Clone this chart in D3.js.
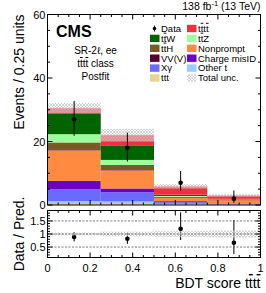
<!DOCTYPE html>
<html>
<head>
<meta charset="utf-8">
<script src="https://cdn.jsdelivr.net/npm/d3@7"></script>
<style>
  body { margin: 0; background: #fff; }
  text { font-family: "Liberation Sans", Arial, sans-serif; fill: #000; }
  .ol { text-decoration: overline; }
</style>
</head>
<body>
<svg></svg>
<script>
const WIDTH = 266;
const HEIGHT = 293;

// bins of the BDT score
const binEdges = [0, 0.25, 0.5, 0.75, 1];

// processes, bottom of the stack first ("~t" = t with a bar)
const procNames = ["ttt", "Other t", "X\u03b3", "Charge misID", "Nonprompt", "VV(V)", "t~tH", "t~tZ", "t~tW", "t~tt~t"];
const procColors = ["#e8d490", "#9ccbff", "#6a6aff", "#6a00cc", "#ff8a40", "#5a0030", "#7a5a28", "#9cff9c", "#006400", "#f0303c"];

const ttt = [0.3, 0.3, 0.1, 0.05];
const otherT = [0.9, 0.8, 0.3, 0.15];
const xGamma = [3.8, 2.9, 0.5, 0.2];
const chargeMisID = [2.6, 1.2, 0.3, 0.1];
const nonprompt = [9.6, 5.7, 1.0, 1.0];
const vvv = [0.1, 0.1, 0.05, 0.05];
const ttH = [2.4, 1.6, 0.3, 0.1];
const ttZ = [2.6, 1.6, 0.3, 0.1];
const ttW = [6.6, 4.4, 0.4, 0.2];
const tttt = [1.6, 3.4, 2.6, 1.05];
const procValues = [ttt, otherT, xGamma, chargeMisID, nonprompt, vvv, ttH, ttZ, ttW, tttt];

const totalUnc = [1.6, 2.0, 0.65, 0.4];

const dataCounts = [27, 18, 7, 2];
const dataErrUp = [5.8, 4.8, 3.7, 2.6];
const dataErrDown = [5.2, 4.3, 2.5, 1.3];

const xTicks = [0, 0.2, 0.4, 0.6, 0.8, 1];
const yTicks = [0, 20, 40, 60];
const ratioTicks = [0.5, 1, 1.5];

const legendCol1 = ["Data", "t~tW", "t~tH", "VV(V)", "X\u03b3", "ttt"];
const legendCol2 = ["t~tt~t", "t~tZ", "Nonprompt", "Charge misID", "Other t", "Total unc."];

// layout
const left = 47.5, right = 260.5;
const mainTop = 14.5, mainBot = 205;
const ratTop = 210.5, ratBot = 257.5;

var svg = d3.select("svg").attr("width", WIDTH).attr("height", HEIGHT);

var defs = svg.append("defs");
var pat = defs.append("pattern").attr("id", "hatch")
  .attr("patternUnits", "userSpaceOnUse").attr("width", 3).attr("height", 3);
pat.append("rect").attr("width", 3).attr("height", 3).attr("fill", "rgba(255,255,255,0.4)");
pat.append("path").attr("d", "M0,3 L3,0 M0,0 L3,3")
  .attr("stroke", "#b8b8b8").attr("stroke-width", 0.6);

var x = d3.scaleLinear().domain([0, 1]).range([left, right]);
var y = d3.scaleLinear().domain([0, 60]).range([mainBot, mainTop]);
var yr = d3.scaleLinear().domain([0.1, 1.9]).range([ratBot, ratTop]);

function addLabel(sel, str) {
  str.split(/(~t)/).filter(s => s.length).forEach(s => {
    if (s === "~t") sel.append("tspan").attr("class", "ol").text("t");
    else sel.append("tspan").text(s);
  });
}

// stacked histogram
var rows = binEdges.slice(0, -1).map((b, i) => {
  var r = { i: i };
  procNames.forEach((p, k) => r[p] = procValues[k][i]);
  return r;
});
var stacked = d3.stack().keys(procNames)(rows);

stacked.forEach((layer, k) => {
  svg.append("g").selectAll("rect").data(layer).enter().append("rect")
    .attr("x", d => x(binEdges[d.data.i]))
    .attr("width", d => x(binEdges[d.data.i + 1]) - x(binEdges[d.data.i]))
    .attr("y", d => y(d[1]))
    .attr("height", d => y(d[0]) - y(d[1]))
    .attr("fill", procColors[k]);
});

var totals = rows.map((r, i) => d3.sum(procValues, v => v[i]));

// total uncertainty band
svg.append("g").selectAll("rect").data(totals).enter().append("rect")
  .attr("x", (d, i) => x(binEdges[i]))
  .attr("width", (d, i) => x(binEdges[i + 1]) - x(binEdges[i]))
  .attr("y", (d, i) => y(d + totalUnc[i]))
  .attr("height", (d, i) => y(d - totalUnc[i]) - y(d + totalUnc[i]))
  .attr("fill", "url(#hatch)");

// data points
var centers = binEdges.slice(0, -1).map((b, i) => (b + binEdges[i + 1]) / 2);
var pts = svg.append("g");
dataCounts.forEach((d, i) => {
  pts.append("line").attr("x1", x(centers[i])).attr("x2", x(centers[i]))
    .attr("y1", y(d + dataErrUp[i])).attr("y2", y(d - dataErrDown[i]))
    .attr("stroke", "#000").attr("stroke-width", 1);
  pts.append("circle").attr("cx", x(centers[i])).attr("cy", y(d)).attr("r", 2.3).attr("fill", "#000");
});

// ratio panel
var ratioBand = svg.append("g");
totals.forEach((t, i) => {
  ratioBand.append("rect")
    .attr("x", x(binEdges[i])).attr("width", x(binEdges[i + 1]) - x(binEdges[i]))
    .attr("y", yr(1 + totalUnc[i] / t)).attr("height", yr(1 - totalUnc[i] / t) - yr(1 + totalUnc[i] / t))
    .attr("fill", "url(#hatch)");
});
ratioTicks.forEach(v => {
  svg.append("line").attr("x1", left).attr("x2", right).attr("y1", yr(v)).attr("y2", yr(v))
    .attr("stroke", "#555").attr("stroke-width", 0.8).attr("stroke-dasharray", "2,1.5");
});
dataCounts.forEach((d, i) => {
  var t = totals[i];
  pts.append("line").attr("x1", x(centers[i])).attr("x2", x(centers[i]))
    .attr("y1", yr((d + dataErrUp[i]) / t)).attr("y2", yr((d - dataErrDown[i]) / t))
    .attr("stroke", "#000").attr("stroke-width", 1);
  pts.append("circle").attr("cx", x(centers[i])).attr("cy", yr(d / t)).attr("r", 2.3).attr("fill", "#000");
});

// frames and inward ticks
function frame(top, bot, yScale, yMajor, yMinorStep, showXLabels) {
  var g = svg.append("g");
  g.append("rect").attr("x", left).attr("y", top).attr("width", right - left).attr("height", bot - top)
    .attr("fill", "none").attr("stroke", "#000").attr("stroke-width", 1);
  var xMinor = d3.range(0, 1.0001, 0.05);
  xMinor.forEach(v => {
    var major = xTicks.some(t => Math.abs(t - v) < 1e-6);
    var len = major ? 5 : 2.5;
    g.append("line").attr("x1", x(v)).attr("x2", x(v)).attr("y1", bot).attr("y2", bot - len).attr("stroke", "#000");
    g.append("line").attr("x1", x(v)).attr("x2", x(v)).attr("y1", top).attr("y2", top + len).attr("stroke", "#000");
  });
  var d = yScale.domain();
  var yMinor = d3.range(Math.ceil(d[0] / yMinorStep - 1e-6) * yMinorStep, d[1] + 1e-6, yMinorStep);
  yMinor.forEach(v => {
    var major = yMajor.some(t => Math.abs(t - v) < 1e-6);
    var len = major ? 5 : 2.5;
    g.append("line").attr("x1", left).attr("x2", left + len).attr("y1", yScale(v)).attr("y2", yScale(v)).attr("stroke", "#000");
    g.append("line").attr("x1", right).attr("x2", right - len).attr("y1", yScale(v)).attr("y2", yScale(v)).attr("stroke", "#000");
  });
  g.selectAll("text.yl").data(yMajor).enter().append("text")
    .attr("x", left - 2).attr("y", v => yScale(v) + 4)
    .attr("text-anchor", "end").attr("font-size", 11).text(v => v);
  if (showXLabels) {
    g.selectAll("text.xl").data(xTicks).enter().append("text")
      .attr("x", v => x(v)).attr("y", 272)
      .attr("text-anchor", "middle").attr("font-size", 11).text(v => v);
  }
}
frame(mainTop, mainBot, y, yTicks, 5, false);
frame(ratTop, ratBot, yr, ratioTicks, 0.1, true);

// axis titles
svg.append("text").attr("transform", "translate(24," + mainTop + ") rotate(-90)")
  .attr("text-anchor", "end").attr("font-size", 14).text("Events / 0.25 units");
svg.append("text").attr("transform", "translate(24," + ((ratTop + ratBot) / 2) + ") rotate(-90)")
  .attr("text-anchor", "middle").attr("font-size", 14).text("Data / Pred.");
var xt = svg.append("text").attr("x", right).attr("y", 288).attr("text-anchor", "end").attr("font-size", 14);
addLabel(xt, "BDT score t~tt~t");

// lumi + CMS labels
var lumi = svg.append("text").attr("x", right).attr("y", 9.5).attr("text-anchor", "end").attr("font-size", 10.5);
lumi.append("tspan").text("138 fb");
lumi.append("tspan").attr("dy", -4).attr("font-size", 7.5).text("-1");
lumi.append("tspan").attr("dy", 4).text(" (13 TeV)");

svg.append("text").attr("x", 56).attr("y", 36.5).attr("font-size", 16).attr("font-weight", "bold").text("CMS");
var info = ["SR-2\u2113, ee", "t~tt~t class", "Postfit"];
info.forEach((s, i) => {
  var t = svg.append("text").attr("x", 95.5).attr("y", 54 + i * 13).attr("text-anchor", "middle").attr("font-size", 10);
  addLabel(t, s);
});

// legend
var legendRowY = i => 28.5 + i * 9.9;
function legendEntry(label, col, row) {
  var bx = col === 0 ? 150 : 187;
  var cy = legendRowY(row);
  var g = svg.append("g");
  if (label === "Data") {
    g.append("line").attr("x1", bx + 4.5).attr("x2", bx + 4.5).attr("y1", cy - 3).attr("y2", cy + 3).attr("stroke", "#000");
    g.append("circle").attr("cx", bx + 4.5).attr("cy", cy).attr("r", 1.8).attr("fill", "#000");
  } else if (label === "Total unc.") {
    g.append("rect").attr("x", bx).attr("y", cy - 3.7).attr("width", 9.5).attr("height", 7.4).attr("fill", "url(#hatch)");
  } else {
    var k = procNames.indexOf(label);
    g.append("rect").attr("x", bx).attr("y", cy - 3.7).attr("width", 9.5).attr("height", 7.4).attr("fill", procColors[k]);
  }
  var t = g.append("text").attr("x", bx + 11).attr("y", cy + 3.3).attr("font-size", 9.5);
  addLabel(t, label);
}
legendCol1.forEach((l, i) => legendEntry(l, 0, i));
legendCol2.forEach((l, i) => legendEntry(l, 1, i));
</script>
</body>
</html>
